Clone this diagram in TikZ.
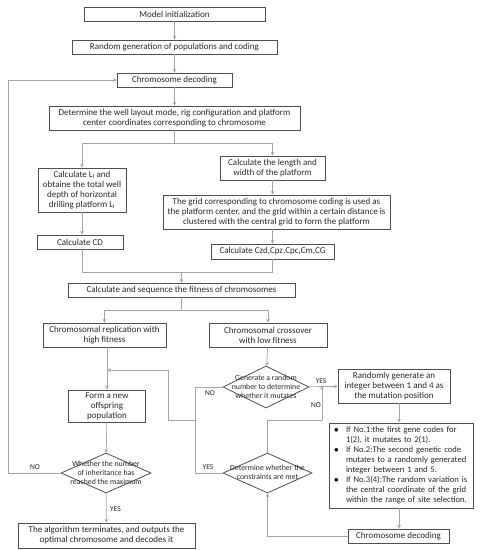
\documentclass[tikz,border=0pt]{standalone}
\usepackage{fontspec}
\setsansfont{Carlito}
\usetikzlibrary{shapes.geometric}

\begin{document}
\begin{tikzpicture}[x=1pt, y=-1pt, font=\sffamily\fontsize{9}{10}\selectfont, >=stealth]

      % Colors: dark grey frames, light grey links
      \definecolor{boxline}{RGB}{80,80,80}
      \definecolor{linkline}{RGB}{165,165,165}
      \definecolor{txt}{RGB}{40,40,40}

      \tikzset{
        box/.style={draw=boxline, line width=0.8pt, text=txt, align=center, inner sep=1pt},
        dbox/.style={draw=boxline, line width=0.8pt, text=txt, diamond, inner sep=0pt,
          font=\sffamily\fontsize{7.8}{9}\selectfont},
        link/.style={draw=linkline, line width=0.7pt},
        arrow/.style={link, ->},
        tag/.style={text=txt, inner sep=0pt, font=\sffamily\fontsize{7.5}{8}\selectfont}
      }

      % text inside a diamond must not enlarge it
      \def\dtext#1{\smash{\makebox[0pt]{\raisebox{-2.5pt}{\begin{tabular}{@{}c@{}}#1\end{tabular}}}}}
      \def\bul{\makebox[12pt][l]{\color{black}$\bullet$}}

      \useasboundingbox (0,0) rectangle (483,550);

      % --- top column ---
      \node[box, minimum width=181pt, minimum height=14pt] (init) at (174.5,14) {Model initialization};
      \node[box, minimum width=205pt, minimum height=14pt] (popgen) at (174.5,47) {Random generation of populations and coding};
      \node[box, minimum width=115pt, minimum height=14pt] (decode) at (174.5,80) {Chromosome decoding};
      \node[box, minimum width=251pt, minimum height=24pt] (layout) at (174.5,118)
        {Determine the well layout mode, rig configuration and platform\\center coordinates corresponding to chromosome};

      % --- left branch: well depth ---
      \node[box, minimum width=88pt, minimum height=44pt] (depth) at (82,190)
        {Calculate L\textsubscript{l} and\\obtaine the total well\\depth of horizontal\\drilling platform L\textsubscript{l}};
      \node[box, minimum width=86pt, minimum height=14pt] (calccd) at (80,242) {Calculate CD};

      % --- right branch: platform ---
      \node[box, minimum width=105pt, minimum height=24pt] (size) at (272.5,168)
        {Calculate the length and\\width of the platform};
      \node[box, minimum width=227pt, minimum height=34pt] (grid) at (276.5,212)
        {The grid corresponding to chromosome coding is used as\\the platform center, and the grid within a certain distance is\\clustered with the central grid to form the platform};
      \node[box, minimum width=123pt, minimum height=15pt] (costs) at (272.5,251.5) {Calculate Czd,Cpz,Cpc,Cm,CG};

      % --- fitness ---
      \node[box, minimum width=227pt, minimum height=14pt] (fitness) at (181.5,290) {Calculate and sequence the fitness of chromosomes};
      \node[box, minimum width=123pt, minimum height=24pt] (replic) at (104.5,335)
        {Chromosomal replication with\\high fitness};
      \node[box, minimum width=118pt, minimum height=24pt] (cross) at (268,335)
        {Chromosomal crossover\\with low fitness};

      % --- left loop ---
      \node[box, minimum width=77pt, minimum height=32pt] (offspring) at (107,406)
        {Form a new\\offspring\\population};
      \node[dbox, minimum width=90pt, minimum height=40pt] (maxgen) at (106,473)
        {\dtext{Whether the number\\of inheritance has\\reached the maximum}};
      \node[box, minimum width=177pt, minimum height=25pt] (finish) at (106.5,535.5)
        {The algorithm terminates, and outputs the\\optimal chromosome and decodes it};

      % --- mutation ---
      \node[dbox, minimum width=86pt, minimum height=42pt] (mutate) at (266,387)
        {\dtext{Generate a random\\number to determine\\whether it mutates}};
      \node[box, minimum width=112pt, minimum height=34pt] (mutpos) at (394,386)
        {Randomly generate an\\integer between 1 and 4 as\\the mutation position};
      \node[box, align=left, text width=134pt, minimum width=144pt, minimum height=85pt,
        font=\sffamily\fontsize{8.6}{10}\selectfont] (mutrule) at (401,465.5)
        {\bul If No.1:the first gene codes for\\
         \hspace*{12pt}1(2), it mutates to 2(1).\\
         \bul If No.2:The second genetic code\\
         \hspace*{12pt}mutates to a randomly generated\\
         \hspace*{12pt}integer between 1 and 5.\\
         \bul If No.3(4):The random variation is\\
         \hspace*{12pt}the central coordinate of the grid\\
         \hspace*{12pt}within the range of site selection.};
      \node[box, minimum width=101pt, minimum height=14pt] (decode2) at (398.5,536) {Chromosome decoding};
      \node[dbox, minimum width=89pt, minimum height=40pt] (constr) at (267.5,473)
        {\dtext{Determine whether the\\constraints are met}};

      % junction points
      \coordinate (split1) at (174.5,143);
      \coordinate (merge1) at (181.5,272);
      \coordinate (split2) at (181.5,310);
      \coordinate (back) at (168,370);
      \coordinate (join) at (195,420);
      \coordinate (retry) at (322,420);
      \coordinate (ruleline) at (399,0);

      % --- links ---
      \draw[arrow] (init) -- (popgen);
      \draw[arrow] (popgen) -- (decode);
      \draw[arrow] (decode) -- (layout);
      \draw[link] (layout) -- (split1);
      \draw[arrow] (split1) -| (depth);
      \draw[arrow] (split1) -| (size);
      \draw[arrow] (depth.south) -- (depth.south |- calccd.north);
      \draw[arrow] (size.south) -- (size.south |- grid.north);
      \draw[arrow] (size.south |- grid.south) -- (size.south |- costs.north);
      \draw[link] (depth.south |- calccd.south) |- (merge1);
      \draw[link] (size.south |- costs.south) |- (merge1);
      \draw[arrow] (merge1) -- (fitness);
      \draw[link] (fitness) -- (split2);
      \draw[arrow] (split2) -| (replic);
      \draw[arrow] (split2) -| (cross);
      \draw[arrow] (offspring.north |- replic.south) -- (offspring.north);
      \draw[arrow] (offspring) -- (maxgen);
      \draw[arrow] (maxgen.west) -| (8,80) -- (decode.west);
      \draw[arrow] (maxgen) -- (finish);
      \draw[arrow] (cross) -- (mutate);
      \draw[arrow] (mutate) -- (mutpos);
      \draw[arrow] (ruleline |- mutpos.south) -- (ruleline |- mutrule.north);
      \draw[arrow] (ruleline |- mutrule.south) -- (ruleline |- decode2.north);
      \draw[arrow] (decode2.west) -| (constr.south);
      \draw[link] (constr.north) |- (retry);
      \draw[arrow] (retry) -- (retry |- mutpos.west);
      \draw[link] (mutate.west) -| (join);
      \draw[link] (constr.west) -| (join);
      \draw[arrow] (join) -| (back) -- (back -| offspring.north);

      % --- branch tags ---
      \node[tag] (nomax) at (35,467) {NO};
      \node[tag] (yesmax) at (115.5,509) {YES};
      \node[tag] (nomut) at (210,393) {NO};
      \node[tag] (yesmut) at (321,381) {YES};
      \node[tag] (nocon) at (316,405) {NO};
      \node[tag] (yescon) at (208,467) {YES};

    \end{tikzpicture}
\end{document}
